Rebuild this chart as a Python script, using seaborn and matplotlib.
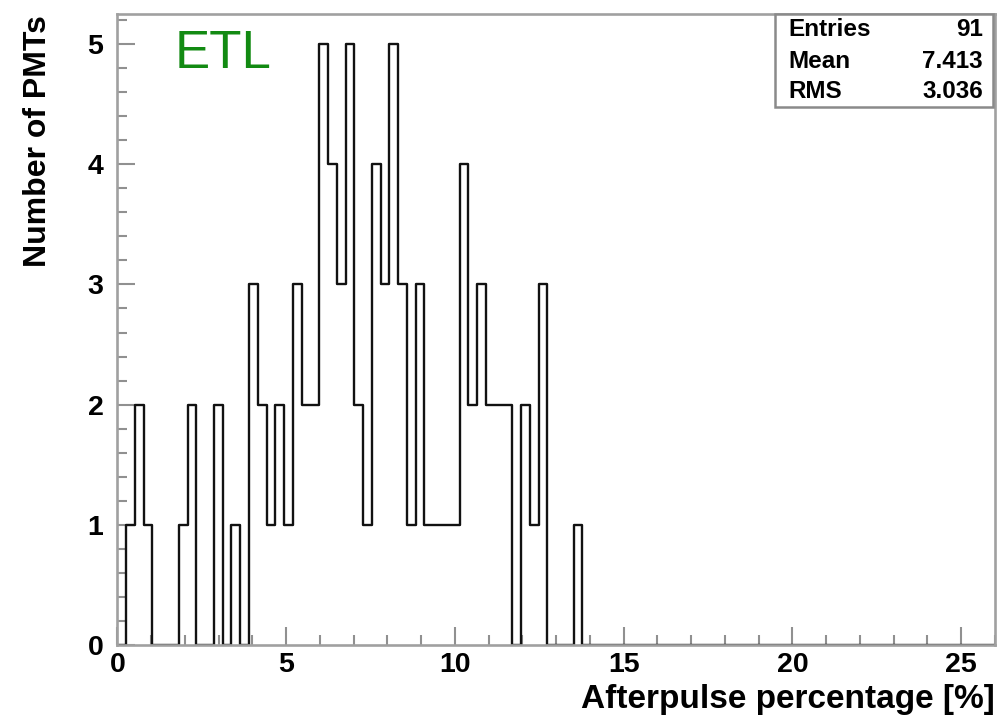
import numpy as np
import pandas as pd
import matplotlib
matplotlib.use("Agg")
import matplotlib.pyplot as plt
import seaborn as sns
from matplotlib.ticker import MultipleLocator

# ---- data ----
x_min = 0.0
x_max = 26.0
n_bins = 100
# counts per 0.26-wide bin, starting at bin 0 (0.00-0.26); later bins are empty
counts = [0, 1, 2, 1, 0, 0, 0, 1, 2, 0, 0, 2, 0, 1, 0, 3, 2, 1, 2, 1,
          3, 2, 2, 5, 4, 3, 5, 2, 1, 4, 3, 5, 3, 1, 3, 1, 1, 1, 1, 4,
          2, 3, 2, 2, 2, 0, 2, 1, 3, 0, 0, 0, 1]
stats_labels = ["Entries", "Mean", "RMS"]
stats_values = ["91", "7.413", "3.036"]
x_ticks = [0, 5, 10, 15, 20, 25]
y_ticks = [0, 1, 2, 3, 4, 5]
title_tag = "ETL"
xlabel = "Afterpulse percentage [%]"
ylabel = "Number of PMTs"

edges = np.linspace(x_min, x_max, n_bins + 1)
centers = (edges[:-1] + edges[1:]) / 2
df = pd.DataFrame({"pct": centers[:len(counts)], "n": counts})

sns.set_style("white")
plt.rcParams["font.family"] = ["Liberation Sans", "DejaVu Sans"]
plt.rcParams["text.color"] = "black"
plt.rcParams["axes.labelcolor"] = "black"
plt.rcParams["xtick.labelcolor"] = "black"
plt.rcParams["ytick.labelcolor"] = "black"

W, H = 997, 719
fig = plt.figure(figsize=(W / 100, H / 100), dpi=100)
L, R, T, B = 117.3, 995, 14, 645
ax = fig.add_axes([L / W, 1 - B / H, (R - L) / W, (B - T) / H])

sns.histplot(data=df, x="pct", weights="n", bins=[float(e) for e in edges],
             element="step", fill=False, color="#111111", linewidth=1.7, ax=ax)

ax.set_xlim(x_min, x_max)
ax.set_ylim(0, 5.25)

frame_col = "#a0a0a0"
for s in ax.spines.values():
    s.set_color(frame_col)
    s.set_linewidth(1.9)
    s.set_zorder(3)

ax.set_xticks(x_ticks)
ax.set_yticks(y_ticks)
ax.xaxis.set_minor_locator(MultipleLocator(1))
ax.yaxis.set_minor_locator(MultipleLocator(0.2))
ax.tick_params(axis="both", which="both", direction="in", color="#909090",
               width=1.5, bottom=True, left=True, top=False, right=False)
ax.tick_params(axis="both", which="major", length=13)
ax.tick_params(axis="both", which="minor", length=7)
ax.tick_params(axis="x", which="major", pad=5, labelsize=20.5, labelcolor="black")
ax.tick_params(axis="y", which="major", pad=10, labelsize=20.5, labelcolor="black")
for lab in ax.get_xticklabels() + ax.get_yticklabels():
    lab.set_fontweight("bold")

ax.set_xlabel(xlabel, fontsize=24, fontweight="bold", loc="right", color="black")
ax.xaxis.set_label_coords((995 - L) / (R - L), -(708 - B) / (B - T))
ax.xaxis.label.set_verticalalignment("baseline")
ax.set_ylabel(ylabel, fontsize=23, fontweight="bold", loc="top", color="black")
ax.yaxis.set_label_coords(-(L - 53) / (R - L), 1.0 - (15 - T) / (B - T))

# ETL tag
ax.text((175 - L) / (R - L), (B - 68) / (B - T), title_tag, transform=ax.transAxes,
        fontsize=38, color="#128a12", ha="left", va="baseline")

# stats box
bx0, bx1, by0, by1 = 775, 993, 14, 107
box = plt.Rectangle((bx0 / W, 1 - by1 / H), (bx1 - bx0) / W, (by1 - by0) / H,
                    transform=fig.transFigure, facecolor="white",
                    edgecolor="#8a8a8a", linewidth=1.8, zorder=5)
fig.add_artist(box)
row_y = [29, 61, 92]
for lab, val, yy in zip(stats_labels, stats_values, row_y):
    fig.text(788 / W, 1 - yy / H, lab, fontsize=17.5, fontweight="bold",
             ha="left", va="center", zorder=6, color="black")
    fig.text(983 / W, 1 - yy / H, val, fontsize=17.5, fontweight="bold",
             ha="right", va="center", zorder=6, color="black")

fig.savefig("out.png", dpi=100, facecolor="white")
